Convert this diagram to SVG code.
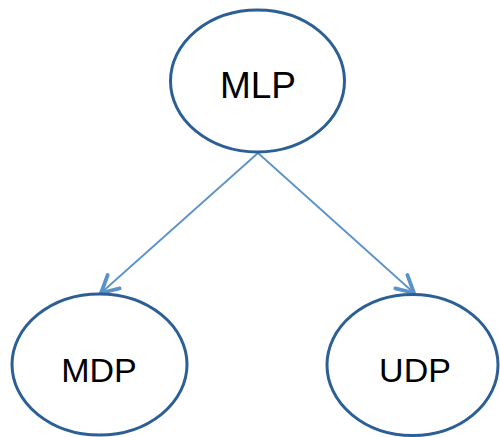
<svg xmlns="http://www.w3.org/2000/svg" width="500" height="437" viewBox="0 0 500 437">
<style>
.node ellipse{fill:#fff;stroke:#2b5f95;stroke-width:3}
.node text{font-family:"Liberation Sans","DejaVu Sans",sans-serif;fill:#000;text-anchor:middle}
.edge{stroke:#5b93c8;stroke-width:1.8;fill:none}
</style>
<defs>
<marker id="arr" markerUnits="userSpaceOnUse" markerWidth="30" markerHeight="30" viewBox="-20 -15 30 30" refX="0" refY="0" orient="auto">
<path d="M-17,-9 L0,0 L-17,9" fill="none" stroke="#5b93c8" stroke-width="3.8" stroke-linecap="round" stroke-linejoin="round"/>
</marker>
</defs>
<g id="connectors">
<line class="edge" x1="258" y1="153" x2="101" y2="293" marker-end="url(#arr)"/>
<line class="edge" x1="258" y1="153" x2="414" y2="293" marker-end="url(#arr)"/>
</g>
<g id="MLP" class="node">
<ellipse cx="257.5" cy="81" rx="87" ry="71"/>
<text x="258" y="98" font-size="37">MLP</text>
</g>
<g id="MDP" class="node">
<ellipse cx="99.5" cy="364.5" rx="87.5" ry="70.5"/>
<text x="99" y="382" font-size="34">MDP</text>
</g>
<g id="UDP" class="node">
<ellipse cx="412.5" cy="365" rx="85.5" ry="70.5"/>
<text x="415" y="382" font-size="34">UDP</text>
</g>
</svg>
